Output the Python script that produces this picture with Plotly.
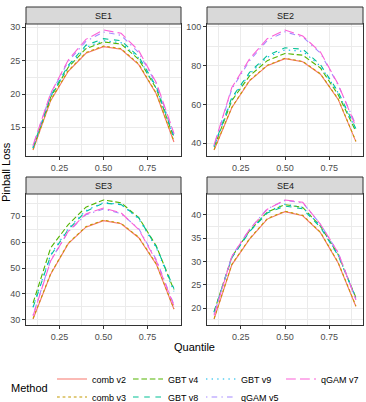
import plotly.graph_objects as go

W, H = 366, 402
FONT = "Liberation Sans"

# ---------------- data ----------------
quantiles = [0.1, 0.2, 0.3, 0.4, 0.5, 0.6, 0.7, 0.8, 0.9]
methods = ["comb v2", "comb v3", "GBT v4", "GBT v8", "GBT v9", "qGAM v5", "qGAM v7"]
panel_names = ["SE1", "SE2", "SE3", "SE4"]

se1_comb_v2 = [11.6, 19.0, 23.4, 26.1, 27.1, 26.7, 24.4, 20.0, 12.8]
se1_comb_v3 = [11.7, 19.1, 23.5, 26.2, 27.2, 26.8, 24.5, 20.1, 12.9]
se1_gbt_v4 = [11.9, 19.5, 24.0, 26.8, 27.8, 27.5, 25.2, 20.8, 13.4]
se1_gbt_v8 = [12.0, 19.7, 24.3, 27.3, 28.3, 28.0, 25.6, 21.1, 13.6]
se1_gbt_v9 = [11.9, 19.6, 24.1, 27.0, 28.0, 27.7, 25.4, 20.9, 13.5]
se1_qgam_v5 = [12.2, 20.0, 24.9, 27.9, 29.3, 28.8, 26.2, 21.5, 14.0]
se1_qgam_v7 = [12.3, 20.1, 25.1, 28.2, 29.6, 29.1, 26.5, 21.7, 14.1]

se2_comb_v2 = [36.5, 58.3, 72.2, 80.0, 83.6, 82.0, 75.6, 62.6, 40.8]
se2_comb_v3 = [36.7, 58.5, 72.4, 80.2, 83.8, 82.2, 75.8, 62.8, 41.0]
se2_gbt_v4 = [38.0, 62.0, 74.7, 82.6, 86.3, 85.4, 78.8, 65.0, 46.0]
se2_gbt_v8 = [38.5, 63.5, 76.5, 85.2, 89.2, 88.5, 80.5, 66.5, 47.5]
se2_gbt_v9 = [38.3, 62.8, 75.8, 84.3, 88.2, 87.4, 79.8, 66.0, 47.0]
se2_qgam_v5 = [38.8, 68.0, 82.5, 93.0, 97.5, 94.8, 86.5, 70.0, 49.5]
se2_qgam_v7 = [39.1, 68.7, 83.5, 93.9, 98.4, 95.3, 87.0, 70.4, 48.5]

se3_comb_v2 = [30.3, 47.6, 59.4, 65.8, 68.3, 67.1, 61.7, 51.4, 34.1]
se3_comb_v3 = [30.5, 47.8, 59.6, 66.0, 68.5, 67.3, 61.9, 51.6, 34.3]
se3_gbt_v4 = [36.5, 57.8, 66.8, 73.5, 76.3, 75.2, 69.5, 58.5, 41.5]
se3_gbt_v8 = [34.8, 54.8, 64.9, 71.9, 75.1, 74.5, 69.4, 58.2, 42.0]
se3_gbt_v9 = [35.0, 55.2, 65.2, 72.2, 75.3, 74.6, 69.0, 57.8, 41.0]
se3_qgam_v5 = [31.8, 53.0, 64.0, 70.6, 72.8, 71.0, 65.2, 53.2, 35.8]
se3_qgam_v7 = [31.5, 52.7, 64.2, 70.9, 73.2, 71.3, 64.9, 52.7, 35.4]

se4_comb_v2 = [17.7, 29.3, 34.8, 39.1, 40.7, 39.8, 36.2, 29.7, 20.4]
se4_comb_v3 = [17.8, 29.4, 34.9, 39.2, 40.8, 39.9, 36.3, 29.8, 20.5]
se4_gbt_v4 = [19.3, 31.0, 36.6, 40.6, 42.2, 41.6, 37.6, 31.5, 22.3]
se4_gbt_v8 = [19.2, 30.8, 36.4, 40.4, 41.9, 41.3, 37.3, 31.3, 22.2]
se4_gbt_v9 = [19.1, 30.9, 36.5, 40.7, 42.3, 41.6, 37.6, 31.4, 22.1]
se4_qgam_v5 = [18.7, 31.2, 36.9, 41.3, 43.1, 42.6, 38.0, 31.9, 21.9]
se4_qgam_v7 = [18.5, 31.1, 36.9, 41.2, 43.2, 42.7, 38.0, 31.9, 21.8]

x_ticks = [0.25, 0.50, 0.75]
x_tick_labels = ["0.25", "0.50", "0.75"]
se1_ticks = [15, 20, 25, 30]
se2_ticks = [40, 60, 80, 100]
se3_ticks = [30, 40, 50, 60, 70]
se4_ticks = [20, 25, 30, 35, 40]

panel_data = [
    [se1_comb_v2, se1_comb_v3, se1_gbt_v4, se1_gbt_v8, se1_gbt_v9, se1_qgam_v5, se1_qgam_v7],
    [se2_comb_v2, se2_comb_v3, se2_gbt_v4, se2_gbt_v8, se2_gbt_v9, se2_qgam_v5, se2_qgam_v7],
    [se3_comb_v2, se3_comb_v3, se3_gbt_v4, se3_gbt_v8, se3_gbt_v9, se3_qgam_v5, se3_qgam_v7],
    [se4_comb_v2, se4_comb_v3, se4_gbt_v4, se4_gbt_v8, se4_gbt_v9, se4_qgam_v5, se4_qgam_v7],
]
panel_ticks = [se1_ticks, se2_ticks, se3_ticks, se4_ticks]

# ---------------- styles ----------------
colors = ["#F8766D", "#C49A00", "#53B400", "#00C094", "#00B6EB", "#A58AFF", "#FB61D7"]
dashes = ["solid", "2.8px,2.8px", "5.6px,2.8px", "5.6px,5.6px", "1.4px,4.2px",
          "1.4px,4.2px,5.6px,4.2px", "9.8px,4.2px"]
legend_of = ["legend", "legend2", "legend", "legend2", "legend", "legend2", "legend"]
legend_w = [31, 31, 28, 28, 35, 35, 38]

col_px = [(26, 181), (207, 363)]
row_px = [(24, 156), (194, 325)]
STRIP_H = 17


def xdom(a, b):
    return [a / W, b / W]


def ydom(top, bottom):
    return [1 - bottom / H, 1 - top / H]


fig = go.Figure()
layout = dict(
    width=W, height=H,
    margin=dict(l=0, r=0, t=0, b=0, autoexpand=False),
    paper_bgcolor="white", plot_bgcolor="white",
    font=dict(family=FONT, size=9, color="black"),
    showlegend=True,
)
shapes = []
annotations = []

xr = [min(quantiles), max(quantiles)]
xpad = 0.05 * (xr[1] - xr[0])
x_range = [xr[0] - xpad, xr[1] + xpad]
x_minor = [t - 0.125 for t in x_ticks] + [x_ticks[-1] + 0.125]

for i, name in enumerate(panel_names):
    r, c = divmod(i, 2)
    k = i + 1
    xs = "" if k == 1 else str(k)
    vals = [v for series in panel_data[i] for v in series]
    lo, hi = min(vals), max(vals)
    pad = 0.05 * (hi - lo)
    ticks = panel_ticks[i]
    step = ticks[1] - ticks[0]
    y_minor = [t - step / 2 for t in ticks] + [ticks[-1] + step / 2]

    common = dict(
        ticks="outside", ticklen=3, tickwidth=1, tickcolor="#333333",
        showline=True, mirror=True, linecolor="#333333", linewidth=1,
        showgrid=True, gridcolor="#EBEBEB", gridwidth=1, zeroline=False,
        tickfont=dict(size=9, color="#4D4D4D", family=FONT),
        fixedrange=True,
    )
    layout["xaxis" + xs] = dict(
        domain=xdom(*col_px[c]), range=x_range, anchor="y" + xs,
        tickvals=x_ticks, ticktext=x_tick_labels,
        minor=dict(tickvals=x_minor, showgrid=True, gridcolor="#EBEBEB", gridwidth=0.5, ticks=""),
        **common,
    )
    layout["yaxis" + xs] = dict(
        domain=ydom(*row_px[r]), range=[lo - pad, hi + pad], anchor="x" + xs,
        tickvals=ticks, ticktext=[str(t) for t in ticks],
        minor=dict(tickvals=y_minor, showgrid=True, gridcolor="#EBEBEB", gridwidth=0.5, ticks=""),
        **common,
    )
    # strip
    x0, x1 = col_px[c]
    top = row_px[r][0]
    shapes.append(dict(type="rect", xref="paper", yref="paper",
                       x0=x0 / W, x1=x1 / W, y0=1 - top / H, y1=1 - (top - STRIP_H) / H,
                       fillcolor="#D9D9D9", line=dict(color="#333333", width=1), layer="above"))
    annotations.append(dict(text=name, xref="paper", yref="paper", showarrow=False,
                            x=(x0 + x1) / 2 / W, y=1 - (top - STRIP_H / 2) / H,
                            xanchor="center", yanchor="middle",
                            font=dict(size=9, color="#1A1A1A", family=FONT)))

    for j, m in enumerate(methods):
        fig.add_trace(go.Scatter(
            x=quantiles, y=panel_data[i][j], mode="lines", name=m,
            line=dict(color=colors[j], width=1.1, dash=dashes[j]),
            xaxis="x" + xs, yaxis="y" + xs,
            showlegend=(i == 0), legend=legend_of[j], legendwidth=legend_w[j],
            hoverinfo="skip",
        ))

annotations.append(dict(text="Quantile", xref="paper", yref="paper", showarrow=False,
                        x=194.5 / W, y=1 - 347 / H, xanchor="center", yanchor="middle",
                        font=dict(size=11, color="black", family=FONT)))
annotations.append(dict(text="Pinball Loss", xref="paper", yref="paper", showarrow=False,
                        x=6 / W, y=1 - 172 / H, xanchor="center", yanchor="middle",
                        textangle=-90, font=dict(size=11, color="black", family=FONT)))
annotations.append(dict(text="Method", xref="paper", yref="paper", showarrow=False,
                        x=50 / W, y=1 - 388 / H, xanchor="right", yanchor="middle",
                        font=dict(size=11, color="black", family=FONT)))

leg_common = dict(orientation="h", xanchor="left", yanchor="middle",
                  font=dict(size=9, color="black", family=FONT),
                  bgcolor="rgba(0,0,0,0)", itemwidth=30, tracegroupgap=0,
                  traceorder="normal", itemclick=False, itemdoubleclick=False)
layout["legend"] = dict(x=52 / W, y=1 - 379 / H, **leg_common)
layout["legend2"] = dict(x=52 / W, y=1 - 397 / H, **leg_common)
layout["shapes"] = shapes
layout["annotations"] = annotations

fig.update_layout(**layout)
fig.write_html("out.html")
